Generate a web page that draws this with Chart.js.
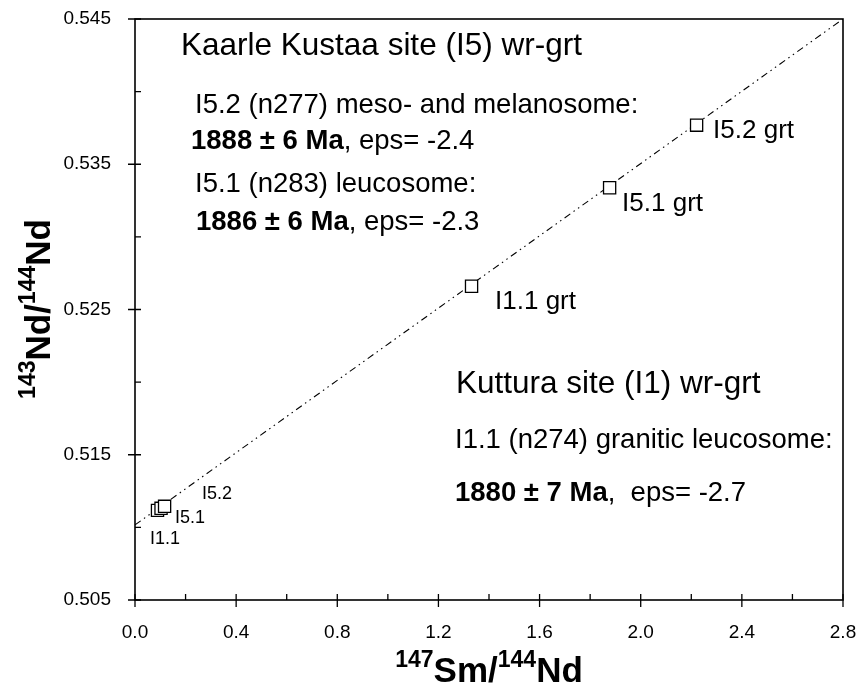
<!DOCTYPE html>
<html><head><meta charset="utf-8">
<script src="https://cdn.jsdelivr.net/npm/chart.js@4"></script>
<style>html,body{margin:0;padding:0;background:#fff}#wrap{width:858px;height:690px}</style>
</head><body><div id="wrap"><canvas id="c" width="858" height="690"></canvas></div>
<script>
// ---- data ----
const xTicks = [0.0, 0.4, 0.8, 1.2, 1.6, 2.0, 2.4, 2.8];
const xMinor = [0.2, 0.6, 1.0, 1.4, 1.8, 2.2, 2.6];
const yTicks = [0.505, 0.515, 0.525, 0.535, 0.545];
const yMinor = [0.510, 0.520, 0.530, 0.540];
const sampleLabels = ['I1.1', 'I5.1', 'I5.2', 'I1.1 grt', 'I5.1 grt', 'I5.2 grt'];
const smNd = [0.089, 0.103, 0.117, 1.331, 1.877, 2.221];
const ndNd = [0.51117, 0.51131, 0.51145, 0.52660, 0.53338, 0.53769];
const isoX = [0.0, 2.8];
const isoY = [0.51017, 0.545];

// ---- styles ----
const FONT = "'Liberation Sans', Arial, Helvetica, sans-serif";
const labelStyle = [
  {dx: -7.5, dy: 28.5, size: 18},
  {dx: 14, dy: 9.5, size: 18},
  {dx: 37.5, dy: -12, size: 18},
  {dx: 23.5, dy: 16, size: 26},
  {dx: 12.5, dy: 16.5, size: 26},
  {dx: 16.5, dy: 6, size: 26}
];
const notes = [
  {x: 181, y: 46, size: 31.5, parts: [{t: 'Kaarle Kustaa site (I5) wr-grt'}]},
  {x: 195, y: 105, size: 27.5, parts: [{t: 'I5.2 (n277) meso- and melanosome:'}]},
  {x: 191, y: 141, size: 27.5, parts: [{t: '1888 ± 6 Ma', b: true}, {t: ', eps= -2.4'}]},
  {x: 195, y: 184, size: 27.5, parts: [{t: 'I5.1 (n283) leucosome:'}]},
  {x: 196, y: 222, size: 27.5, parts: [{t: '1886 ± 6 Ma', b: true}, {t: ', eps= -2.3'}]},
  {x: 456, y: 384, size: 31.5, parts: [{t: 'Kuttura site (I1) wr-grt'}]},
  {x: 455, y: 440, size: 27.5, parts: [{t: 'I1.1 (n274) granitic leucosome:'}]},
  {x: 455, y: 493, size: 27.5, parts: [{t: '1880 ± 7 Ma', b: true}, {t: ',  eps= -2.7'}]}
];

function drawRich(ctx, parts, x, y, main, sup, center) {
  let w = 0;
  parts.forEach(p => {
    ctx.font = 'bold ' + (p.s ? sup : main) + 'px ' + FONT;
    p.w = ctx.measureText(p.t).width; w += p.w;
  });
  let cx = center ? x - w / 2 : x;
  parts.forEach(p => {
    ctx.font = 'bold ' + (p.s ? sup : main) + 'px ' + FONT;
    ctx.fillText(p.t, cx, p.s ? y - main * 0.42 : y);
    cx += p.w;
  });
}

const decor = {
  id: 'decor',
  afterDraw(chart) {
    const {ctx, chartArea: a, scales: {x, y}} = chart;
    ctx.save();
    ctx.strokeStyle = '#000'; ctx.lineWidth = 1.6;
    ctx.strokeRect(a.left, a.top, a.right - a.left, a.bottom - a.top);
    ctx.lineWidth = 1.3;
    ctx.beginPath();
    xTicks.forEach(v => { const px = x.getPixelForValue(v); ctx.moveTo(px, a.bottom - 6); ctx.lineTo(px, a.bottom + 7); });
    xMinor.forEach(v => { const px = x.getPixelForValue(v); ctx.moveTo(px, a.bottom - 6); ctx.lineTo(px, a.bottom); });
    yTicks.forEach(v => { const py = y.getPixelForValue(v); ctx.moveTo(a.left - 7, py); ctx.lineTo(a.left + 6, py); });
    yMinor.forEach(v => { const py = y.getPixelForValue(v); ctx.moveTo(a.left, py); ctx.lineTo(a.left + 6, py); });
    ctx.stroke();

    ctx.fillStyle = '#000';
    ctx.textBaseline = 'middle'; ctx.textAlign = 'left';
    sampleLabels.forEach((t, i) => {
      const s = labelStyle[i];
      ctx.font = s.size + 'px ' + FONT;
      ctx.fillText(t, x.getPixelForValue(smNd[i]) + s.dx, y.getPixelForValue(ndNd[i]) + s.dy);
    });
    notes.forEach(n => {
      let cx = n.x;
      n.parts.forEach(p => {
        ctx.font = (p.b ? 'bold ' : '') + n.size + 'px ' + FONT;
        ctx.fillText(p.t, cx, n.y);
        cx += ctx.measureText(p.t).width;
      });
    });
    ctx.textBaseline = 'alphabetic';
    drawRich(ctx, [{t: '147', s: 1}, {t: 'Sm/'}, {t: '144', s: 1}, {t: 'Nd'}], (a.left + a.right) / 2, 682, 35, 23, true);
    ctx.translate(50, 309);
    ctx.rotate(-Math.PI / 2);
    drawRich(ctx, [{t: '143', s: 1}, {t: 'Nd/'}, {t: '144', s: 1}, {t: 'Nd'}], 0, 0, 35, 23, true);
    ctx.restore();
  }
};

const noPad = s => { s.paddingLeft = 0; s.paddingRight = 0; s.paddingTop = 0; s.paddingBottom = 0; };

new Chart(document.getElementById('c'), {
  type: 'scatter',
  data: {
    datasets: [
      {
        data: smNd.map((v, i) => ({x: v, y: ndNd[i]})),
        pointStyle: 'rect', pointRadius: 8.6, pointHoverRadius: 8.6,
        pointBackgroundColor: '#fff', pointBorderColor: '#000', pointBorderWidth: 1.3
      },
      {
        type: 'line',
        data: isoX.map((v, i) => ({x: v, y: isoY[i]})),
        borderColor: '#000', borderWidth: 1.1, borderDash: [7, 4, 1.5, 4, 1.5, 4],
        pointRadius: 0, fill: false
      }
    ]
  },
  options: {
    responsive: false, animation: false,
    plugins: {legend: {display: false}, tooltip: {enabled: false}},
    layout: {padding: {top: 19, right: 15, left: 0, bottom: 0}},
    scales: {
      x: {
        type: 'linear', min: 0, max: 2.8,
        afterBuildTicks: s => { s.ticks = xTicks.map(v => ({value: v})); },
        afterFit: s => { s.height = 90; noPad(s); },
        grid: {display: false}, border: {display: false},
        ticks: {callback: v => Number(v).toFixed(1), color: '#000', font: {family: FONT, size: 19}, padding: 13, maxRotation: 0, autoSkip: false}
      },
      y: {
        type: 'linear', min: 0.505, max: 0.545,
        afterBuildTicks: s => { s.ticks = yTicks.map(v => ({value: v})); },
        afterFit: s => { s.width = 135; noPad(s); },
        grid: {display: false}, border: {display: false},
        ticks: {callback: v => Number(v).toFixed(3), color: '#000', font: {family: FONT, size: 19}, padding: 16, autoSkip: false}
      }
    }
  },
  plugins: [decor]
});
</script>
</body></html>
